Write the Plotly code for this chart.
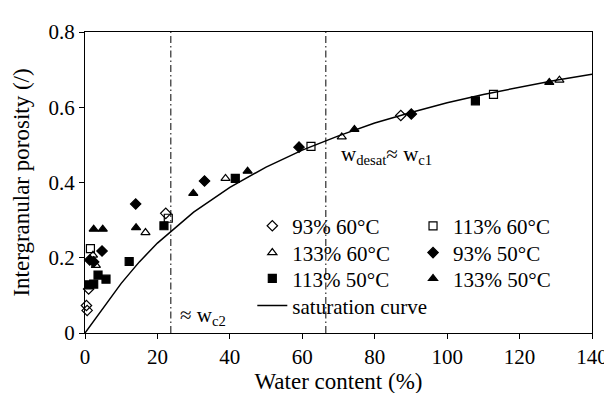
import plotly.graph_objects as go

# ---------------- data ----------------
# 93% 60°C  (open diamond)
w_93_60 = [0.4, 0.6, 1.0, 22.3, 87.2]
p_93_60 = [0.073, 0.060, 0.117, 0.318, 0.578]
# 113% 60°C (open square)
w_113_60 = [1.5, 23.0, 62.4, 112.8]
p_113_60 = [0.224, 0.305, 0.496, 0.634]
# 133% 60°C (open triangle)
w_133_60 = [2.2, 3.0, 16.7, 38.8, 70.9, 131.0]
p_133_60 = [0.207, 0.180, 0.267, 0.411, 0.521, 0.672]
# 93% 50°C (filled diamond)
w_93_50 = [1.3, 2.4, 4.7, 14.0, 33.0, 59.1, 90.1]
p_93_50 = [0.194, 0.189, 0.218, 0.343, 0.404, 0.494, 0.582]
# 113% 50°C (filled square)
w_113_50 = [1.0, 2.4, 3.6, 5.8, 12.2, 21.8, 41.5, 107.8]
p_113_50 = [0.128, 0.130, 0.154, 0.143, 0.190, 0.285, 0.411, 0.617]
# 133% 50°C (filled triangle)
w_133_50 = [2.4, 4.9, 14.1, 29.9, 44.9, 74.4, 128.2]
p_133_50 = [0.276, 0.276, 0.280, 0.371, 0.430, 0.541, 0.666]
# saturation curve
w_sat = [0, 2, 5, 10, 15, 20, 30, 40, 50, 60, 70, 80, 90, 100, 110, 120, 130, 140]
p_sat = [0, 0.027, 0.067, 0.132, 0.189, 0.239, 0.321, 0.387, 0.441, 0.486,
         0.524, 0.558, 0.586, 0.612, 0.634, 0.654, 0.672, 0.688]
# critical water contents (dash-dot lines)
wc2 = 23.7
wc1 = 66.5

x_ticks = [0, 20, 40, 60, 80, 100, 120, 140]
y_ticks = [0, 0.2, 0.4, 0.6, 0.8]
y_ticklabels = ["0", "0.2", "0.4", "0.6", "0.8"]

FONT = "Liberation Serif, Times New Roman, DejaVu Serif, serif"
MS = 8
LEG_FONT = 21

fig = go.Figure()

def pts(x, y, name, symbol, legend):
    fig.add_trace(go.Scatter(
        x=x, y=y, mode="markers", name=name, legend=legend, showlegend=True,
        cliponaxis=False,
        marker=dict(symbol=symbol, size=MS, color="black",
                    line=dict(color="black", width=1.2))))

# left legend column
pts(w_93_60, p_93_60, "93% 60°C", "diamond-open", "legend")
pts(w_133_60, p_133_60, "133% 60°C", "triangle-up-open", "legend2")
pts(w_113_50, p_113_50, "113% 50°C", "square", "legend3")
fig.add_trace(go.Scatter(x=w_sat, y=p_sat, mode="lines", name="saturation curve",
                         legend="legend4", showlegend=True,
                         line=dict(color="black", width=1.5)))
# right legend column
pts(w_113_60, p_113_60, "113% 60°C", "square-open", "legend5")
pts(w_93_50, p_93_50, "93% 50°C", "diamond", "legend6")
pts(w_133_50, p_133_50, "133% 50°C", "triangle-up", "legend7")

for wc in (wc2, wc1):
    fig.add_shape(type="line", xref="x", yref="y", x0=wc, x1=wc, y0=0, y1=0.8,
                  line=dict(color="black", width=1, dash="7px,3px,1.5px,3px"))

fig.add_annotation(x=wc1 + 3.5, y=0.472, xref="x", yref="y", xanchor="left",
                   yanchor="middle", showarrow=False,
                   text="w<sub>desat</sub>≈ w<sub>c1</sub>",
                   font=dict(family=FONT, size=21, color="black"))
fig.add_annotation(x=wc2 + 2, y=0.045, xref="x", yref="y", xanchor="left",
                   yanchor="middle", showarrow=False,
                   text="≈ w<sub>c2</sub>",
                   font=dict(family=FONT, size=21, color="black"))

axis_common = dict(showline=True, linecolor="black", linewidth=1.2, mirror=True,
                   ticks="outside", ticklen=5, tickwidth=1.2, tickcolor="black",
                   showgrid=False, zeroline=False,
                   tickfont=dict(family=FONT, size=21, color="black"))

def leg(x, y):
    return dict(x=x, y=y, xanchor="left", yanchor="middle", visible=True,
                bgcolor="rgba(0,0,0,0)", font=dict(family=FONT, size=LEG_FONT),
                tracegroupgap=0, itemwidth=30)

col_left, col_right = 0.33, 0.647
row_y = [0.355, 0.266, 0.180, 0.090]

fig.update_layout(
    width=612, height=393,
    showlegend=True,
    margin=dict(l=77, r=16, t=19, b=60),
    paper_bgcolor="white", plot_bgcolor="white",
    font=dict(family=FONT, color="black"),
    xaxis=dict(range=[0, 140], tickvals=x_ticks,
               title=dict(text="Water content (%)", font=dict(family=FONT, size=23),
                          standoff=4),
               **axis_common),
    yaxis=dict(range=[0, 0.8], tickvals=y_ticks, ticktext=y_ticklabels,
               title=dict(text="Intergranular porosity (/)", font=dict(family=FONT, size=23),
                          standoff=12),
               **axis_common),
    legend=leg(col_left, row_y[0]),
    legend2=leg(col_left, row_y[1]),
    legend3=leg(col_left, row_y[2]),
    legend4=leg(col_left, row_y[3]),
    legend5=leg(col_right, row_y[0]),
    legend6=leg(col_right, row_y[1]),
    legend7=leg(col_right, row_y[2]),
)

fig.write_html("out.html")
